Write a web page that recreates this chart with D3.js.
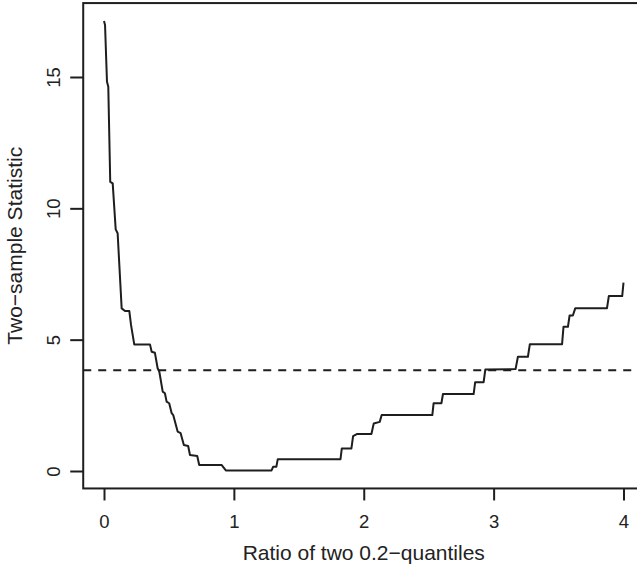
<!DOCTYPE html>
<html>
<head>
<meta charset="utf-8">
<script src="https://cdn.jsdelivr.net/npm/d3@7"></script>
<style>
  html, body { margin: 0; padding: 0; background: #fff; }
  svg { display: block; }
  text { font-family: "Liberation Sans", Arial, Helvetica, sans-serif; fill: #222; }
</style>
</head>
<body>
<div id="chart"></div>
<script>
"use strict";

/* ── Data ── */
const ratioX = [0.000, 0.008, 0.023, 0.033, 0.048, 0.067, 0.090, 0.105, 0.136, 0.162,
                0.195, 0.208, 0.233, 0.354, 0.367, 0.392, 0.413, 0.426, 0.452, 0.469,
                0.482, 0.502, 0.521, 0.533, 0.567, 0.590, 0.615, 0.648, 0.662, 0.718,
                0.733, 0.905, 0.938, 1.290, 1.302, 1.327, 1.338, 1.821, 1.831, 1.905,
                1.918, 1.950, 2.059, 2.077, 2.123, 2.138, 2.528, 2.538, 2.598, 2.610,
                2.846, 2.858, 2.923, 2.936, 3.169, 3.187, 3.264, 3.279, 3.527, 3.538,
                3.572, 3.585, 3.610, 3.629, 3.873, 3.887, 3.990, 4.000];
const statY  = [17.13, 16.98, 14.82, 14.63, 11.01, 10.95, 9.20, 9.05, 6.19, 6.09,
                6.09, 5.56, 4.82, 4.82, 4.54, 4.50, 3.91, 3.78, 3.02, 2.96,
                2.64, 2.58, 2.20, 2.13, 1.50, 1.44, 0.99, 0.95, 0.61, 0.57,
                0.23, 0.23, 0.02, 0.02, 0.16, 0.16, 0.45, 0.45, 0.86, 0.86,
                1.33, 1.41, 1.41, 1.81, 1.87, 2.13, 2.13, 2.58, 2.58, 2.93,
                2.93, 3.38, 3.38, 3.86, 3.88, 4.35, 4.35, 4.83, 4.83, 5.49,
                5.49, 5.92, 5.92, 6.20, 6.20, 6.66, 6.66, 7.17];
const cutoff = 3.84;
const xTicks = [0, 1, 2, 3, 4];
const yTicks = [0, 5, 10, 15];
const xTitle = "Ratio of two 0.2\u2212quantiles";
const yTitle = "Two\u2212sample Statistic";

/* ── Layout ── */
const W = 637, H = 566;
const ink = "#1e1e1e";

const x = d3.scaleLinear().domain([0, 4]).range([104, 623.5]);
const y = d3.scaleLinear().domain([0, 15]).range([471, 77]);

/* R-style 4% padded plot region */
const xr = d3.extent(ratioX), yr = d3.extent(statY);
const xPad = (xr[1] - xr[0]) * 0.04, yPad = (yr[1] - yr[0]) * 0.04;
const boxL = x(xr[0] - xPad), boxR = x(xr[1] + xPad);
const boxT = y(yr[1] + yPad), boxB = y(yr[0] - yPad);

const svg = d3.select("#chart").append("svg")
  .attr("width", W).attr("height", H);

/* ── Curve ── */
const pts = ratioX.map((v, i) => [v, statY[i]]);
svg.append("path")
  .datum(pts)
  .attr("fill", "none")
  .attr("stroke", ink)
  .attr("stroke-width", 2)
  .attr("stroke-linejoin", "round")
  .attr("d", d3.line().x(d => x(d[0])).y(d => y(d[1])));

/* ── Cut-off line ── */
svg.append("line")
  .attr("x1", boxL).attr("x2", boxR)
  .attr("y1", y(cutoff)).attr("y2", y(cutoff))
  .attr("stroke", ink).attr("stroke-width", 2)
  .attr("stroke-dasharray", "8,7");

/* ── Box ── */
svg.append("rect")
  .attr("x", boxL).attr("y", boxT)
  .attr("width", boxR - boxL).attr("height", boxB - boxT)
  .attr("fill", "none").attr("stroke", ink).attr("stroke-width", 2);

/* ── X axis ── */
svg.append("g")
  .attr("transform", `translate(0,${boxB})`)
  .call(d3.axisBottom(x).tickValues(xTicks).tickSize(12).tickPadding(14).tickFormat(d3.format("d")))
  .call(g => {
    g.select(".domain").remove();
    g.selectAll(".tick line").attr("stroke", ink).attr("stroke-width", 2);
    g.selectAll(".tick text")
      .attr("font-size", "18.5px")
      .attr("fill", ink)
      .attr("font-family", "Liberation Sans, Arial, sans-serif");
  });

/* ── Y axis ── */
svg.append("g")
  .attr("transform", `translate(${boxL},0)`)
  .call(d3.axisLeft(y).tickValues(yTicks).tickSize(13).tickFormat(d3.format("d")))
  .call(g => {
    g.select(".domain").remove();
    g.selectAll(".tick line").attr("stroke", ink).attr("stroke-width", 2);
    g.selectAll(".tick text")
      .attr("x", null).attr("dy", null)
      .attr("font-size", "18.5px")
      .attr("fill", ink)
      .attr("font-family", "Liberation Sans, Arial, sans-serif")
      .attr("text-anchor", "middle")
      .attr("transform", `translate(${60 - boxL},0) rotate(-90)`);
  });

/* ── Axis titles ── */
svg.append("text")
  .attr("x", (boxL + boxR) / 2).attr("y", 560)
  .attr("text-anchor", "middle")
  .attr("font-size", "21px")
  .text(xTitle);

svg.append("text")
  .attr("transform", `translate(22,${(boxT + boxB) / 2}) rotate(-90)`)
  .attr("text-anchor", "middle")
  .attr("font-size", "21px")
  .text(yTitle);
</script>
</body>
</html>
